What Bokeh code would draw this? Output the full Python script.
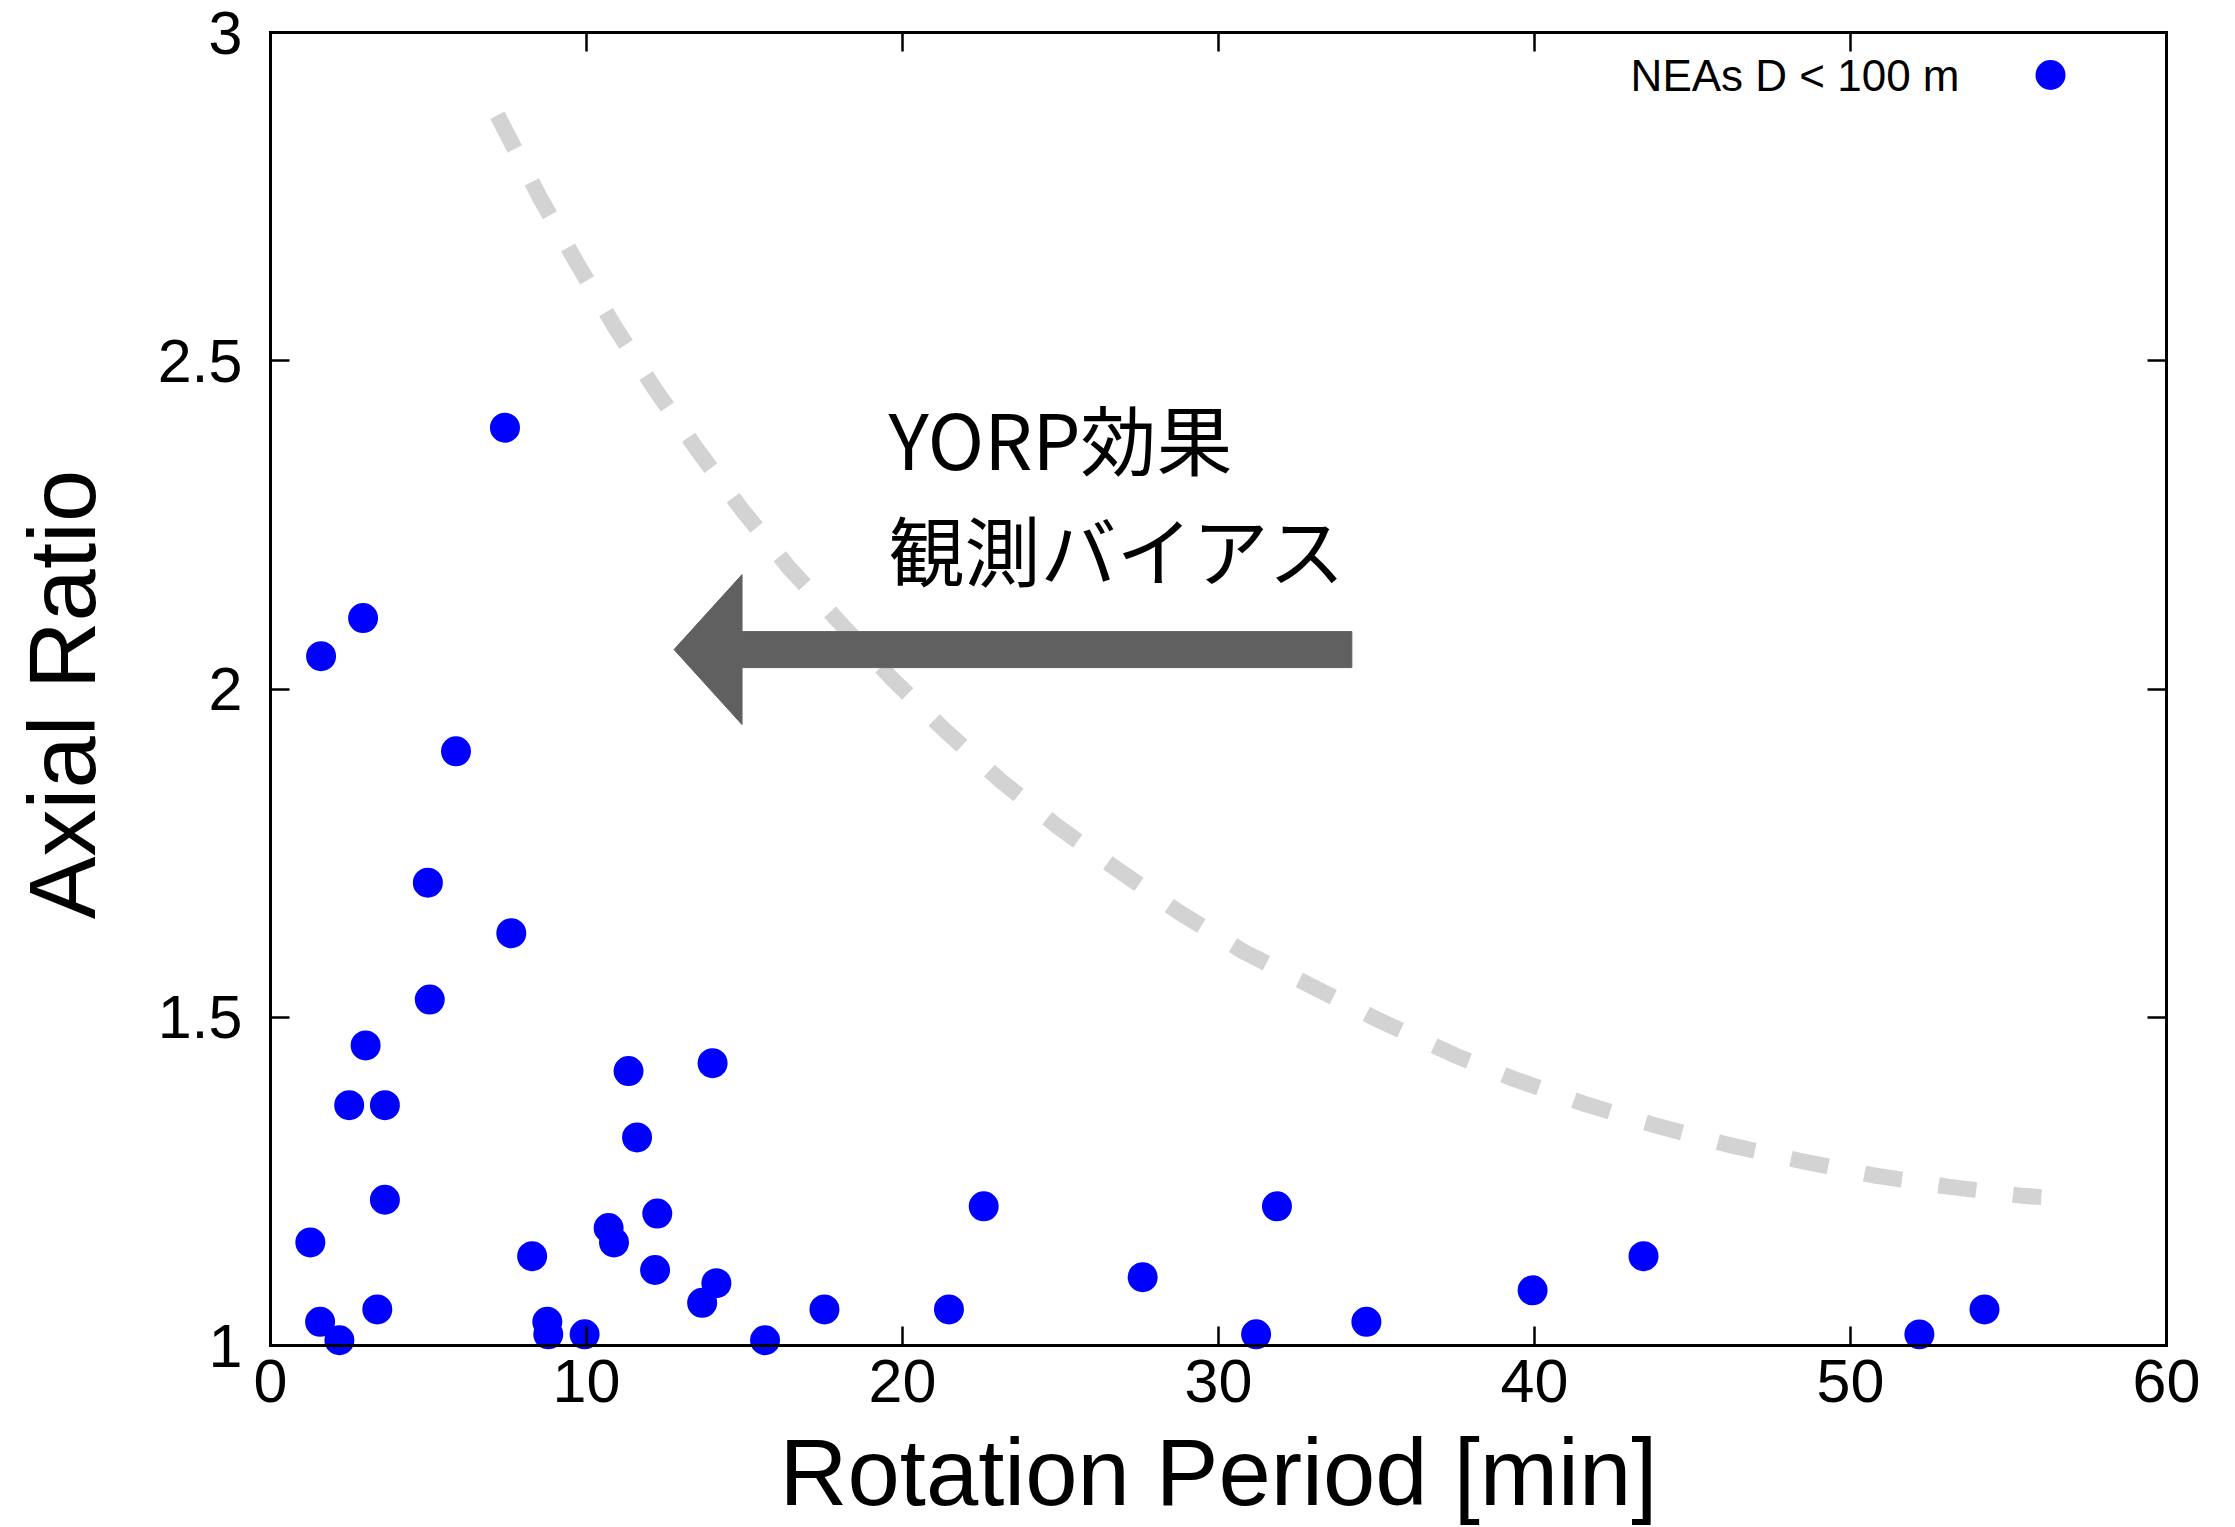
from bokeh.plotting import figure
from bokeh.models import (Range1d, LinearAxis, FixedTicker, Label, Legend,
                          LegendItem, CustomJSTickFormatter)
from bokeh.embed import file_html
from bokeh.resources import INLINE

# --- data -----------------------------------------------------------------
# Rotation period [min] and axial ratio of small near-Earth asteroids (D < 100 m)
period_min = [1.26, 1.60, 1.57, 2.18, 2.49, 2.93, 3.01, 3.38, 3.62, 3.62,
              4.98, 5.04, 5.87, 7.42, 7.62, 8.28, 8.76, 8.79, 9.94, 10.70,
              10.87, 11.33, 11.60, 12.17, 12.24, 13.66, 13.99, 14.11, 15.65, 17.53,
              21.47, 22.57, 27.60, 31.19, 31.85, 34.68, 39.94, 43.45, 52.18, 54.24]
axial_ratio = [1.157, 2.050, 1.036, 1.008, 1.366, 2.108, 1.457, 1.055, 1.366, 1.222,
               1.705, 1.527, 1.905, 2.398, 1.628, 1.136, 1.036, 1.017, 1.017, 1.179,
               1.157, 1.418, 1.317, 1.115, 1.201, 1.065, 1.430, 1.095, 1.008, 1.055,
               1.055, 1.212, 1.104, 1.017, 1.212, 1.036, 1.084, 1.136, 1.017, 1.055]

# Upper envelope (observational bias / YORP limit)
bias_x = [7.18, 8.52, 9.68, 10.89, 12.16, 13.51, 14.94, 16.42, 18.04, 19.62,
          21.32, 23.09, 24.92, 26.83, 28.78, 30.79, 32.88, 35.10, 37.48, 39.35,
          41.58, 43.84, 46.11, 48.43, 50.75, 53.08, 55.42, 56.04]
bias_y = [2.874, 2.749, 2.650, 2.552, 2.457, 2.364, 2.272, 2.184, 2.100, 2.018,
          1.938, 1.861, 1.790, 1.724, 1.659, 1.600, 1.549, 1.495, 1.442, 1.406,
          1.368, 1.335, 1.306, 1.281, 1.259, 1.242, 1.228, 1.226]

x_ticks = [0, 10, 20, 30, 40, 50, 60]
y_ticks = [1, 1.5, 2, 2.5, 3]
y_tick_labels = ["1", "1.5", "2", "2.5", "3"]

series_label = "NEAs D < 100 m"
x_title = "Rotation Period [min]"
y_title = "Axial Ratio"
note_lines = ["YORP効果", "観測バイアス"]

# arrow (data units): tail, tip, height
arrow_tail_x, arrow_tip_x, arrow_y = 34.22, 12.77, 2.060

# --- geometry ---------------------------------------------------------------
W, H = 2235, 1527
X_MIN, X_MAX = 0, 60
Y_MIN, Y_MAX = 1, 3
FRAME_LEFT, FRAME_RIGHT, FRAME_TOP, AXIS_Y_PX, FRAME_BOTTOM = 270, 2166, 32, 1345, 1356
TICK_LEN = 19
px_per_x = (FRAME_RIGHT - FRAME_LEFT) / (X_MAX - X_MIN)
px_per_y = (AXIS_Y_PX - FRAME_TOP) / (Y_MAX - Y_MIN)
# the frame runs a little below y=1 so markers sitting on the axis are not cut;
# the x axis line and its ticks are drawn at y=1 as glyphs
y_start = Y_MIN - (FRAME_BOTTOM - AXIS_Y_PX) / px_per_y


def y_at_px(px):
    return Y_MIN + (AXIS_Y_PX - px) / px_per_y


LATIN = "Liberation Sans"
CJK = "Noto Sans CJK JP"

p = figure(width=W, height=H, output_backend="svg", toolbar_location=None,
           x_range=Range1d(X_MIN, X_MAX), y_range=Range1d(y_start, Y_MAX),
           x_axis_location=None, y_axis_location=None,
           min_border_left=FRAME_LEFT, min_border_right=W - FRAME_RIGHT,
           min_border_top=FRAME_TOP, min_border_bottom=H - FRAME_BOTTOM)
p.outline_line_color = None
p.background_fill_color = "white"
p.border_fill_color = "white"
p.grid.visible = False


def frame_axis(ax, ticks):
    ax.ticker = FixedTicker(ticks=ticks)
    ax.axis_line_color = "black"
    ax.axis_line_width = 3
    ax.axis_line_cap = "square"
    ax.major_tick_in = TICK_LEN
    ax.major_tick_out = 0
    ax.major_tick_line_color = "black"
    ax.major_tick_line_width = 2.5
    ax.minor_tick_line_color = None
    ax.major_label_text_font = LATIN
    ax.major_label_text_color = "black"


def blank_labels(ax):
    ax.formatter = CustomJSTickFormatter(code="return ''")
    ax.major_label_text_font_size = "0px"
    ax.major_label_standoff = 0


# bottom axis: only labels and title (line and ticks are drawn at y=1 below)
bottom = LinearAxis(axis_label=x_title)
frame_axis(bottom, x_ticks)
bottom.axis_line_color = None
bottom.major_tick_line_color = None
bottom.major_label_text_font_size = "61px"
bottom.major_label_standoff = 3
bottom.axis_label_text_font = LATIN
bottom.axis_label_text_font_size = "94px"
bottom.axis_label_text_font_style = "normal"
bottom.axis_label_text_color = "black"
bottom.axis_label_standoff = 15
p.add_layout(bottom, "below")

top = LinearAxis(bounds=(X_MIN, X_MAX))
frame_axis(top, x_ticks)
blank_labels(top)
p.add_layout(top, "above")

left = LinearAxis(bounds=(Y_MIN, Y_MAX), axis_label=y_title)
frame_axis(left, y_ticks)
left.major_label_overrides = dict(zip(y_ticks, y_tick_labels))
left.major_label_text_font_size = "61px"
left.major_label_standoff = 28
left.axis_label_text_font = LATIN
left.axis_label_text_font_size = "94px"
left.axis_label_text_font_style = "normal"
left.axis_label_text_color = "black"
left.axis_label_standoff = 40
p.add_layout(left, "left")

right = LinearAxis(bounds=(Y_MIN, Y_MAX))
frame_axis(right, y_ticks)
blank_labels(right)
p.add_layout(right, "right")

# --- envelope curve -----------------------------------------------------------
p.line(bias_x, bias_y, line_color="#d3d3d3", line_width=16,
       line_dash="38 37", line_cap="butt")

# --- arrow ------------------------------------------------------------------------
shaft_half = 18 / px_per_y
head_half = 75 / px_per_y
head_len = 68 / px_per_x
head_back = arrow_tip_x + head_len
arrow_xs = [arrow_tip_x, head_back, head_back, arrow_tail_x, arrow_tail_x, head_back, head_back]
arrow_ys = [arrow_y, arrow_y + head_half, arrow_y + shaft_half, arrow_y + shaft_half,
            arrow_y - shaft_half, arrow_y - shaft_half, arrow_y - head_half]
p.patch(arrow_xs, arrow_ys, fill_color="#606060", line_color="#606060", line_width=1)

# --- data points -------------------------------------------------------------------
pts = p.scatter(period_min, axial_ratio, size=30, fill_color="#0000ff", line_color=None)

# --- x axis line and inward ticks at y = 1 (drawn over the markers) ------------------
p.segment(x0=[X_MIN], y0=[Y_MIN], x1=[X_MAX], y1=[Y_MIN],
          line_color="black", line_width=3, line_cap="square")
p.segment(x0=x_ticks, y0=[Y_MIN] * len(x_ticks), x1=x_ticks,
          y1=[Y_MIN + TICK_LEN / px_per_y] * len(x_ticks),
          line_color="black", line_width=2.5)

# --- key: text followed by marker ----------------------------------------------------
legend = Legend(items=[LegendItem(label="", renderers=[pts])], location="top_right",
                glyph_width=222, glyph_height=75, label_width=0, label_height=0,
                label_standoff=0, padding=0, spacing=0, margin=5,
                border_line_color=None, background_fill_alpha=0)
p.add_layout(legend)
p.add_layout(Label(x=53.45, y=y_at_px(75), text=series_label,
                   text_font=LATIN, text_font_size="44px", text_color="black",
                   text_align="right", text_baseline="middle"))

# --- annotation text -----------------------------------------------------------------
for line, mid_px in zip(note_lines, [436, 547]):
    p.add_layout(Label(x=19.56, y=y_at_px(mid_px), text=line,
                       text_font=CJK, text_font_size="76px", text_color="black",
                       text_align="left", text_baseline="middle"))

open("out.html", "w").write(file_html(p, INLINE))
